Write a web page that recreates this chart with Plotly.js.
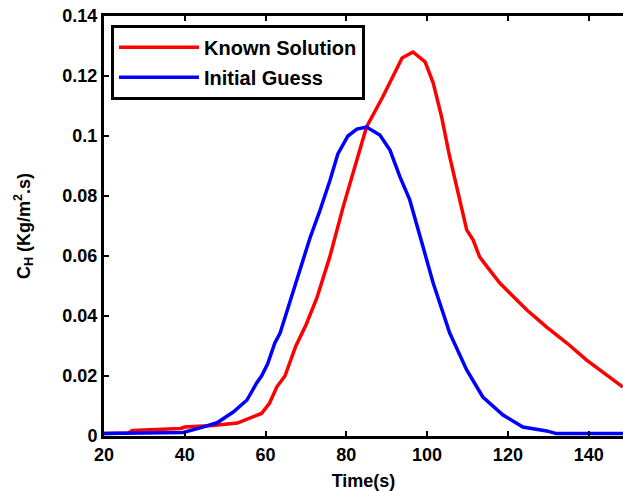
<!DOCTYPE html>
<html>
<head>
<meta charset="utf-8">
<script src="https://cdn.plot.ly/plotly-3.0.1.min.js"></script>
<style>html,body{margin:0;padding:0;background:#fff;}#chart{width:623px;height:491px;}</style>
</head>
<body>
<div id="chart"></div>
<script>
const knownT = [20, 26, 27, 33, 39, 40, 47, 53, 55, 59, 61, 62.8, 64.8, 67.5, 70, 72.7, 75.9, 79.2, 82.6, 85, 89, 90.8, 93.8, 96.5, 99.5, 101.5, 103.6, 105.6, 107.6, 109.8, 111.4, 113, 115.5, 118, 122.2, 124.7, 129.6, 134.6, 139.5, 146, 148.5];
const knownC = [0.0008, 0.0010, 0.0018, 0.0022, 0.0025, 0.0030, 0.0035, 0.0043, 0.0053, 0.0075, 0.011, 0.0164, 0.020, 0.030, 0.037, 0.046, 0.0597, 0.0763, 0.092, 0.103, 0.113, 0.1177, 0.126, 0.128, 0.1247, 0.1177, 0.1063, 0.093, 0.081, 0.0687, 0.0653, 0.0597, 0.0553, 0.051, 0.0453, 0.042, 0.0363, 0.031, 0.0253, 0.0187, 0.0163];
const guessT = [20, 39.6, 43.8, 48, 52, 55.4, 57.8, 59, 60.5, 62.3, 63.6, 66.8, 69, 71, 73.5, 75.9, 77.9, 80.4, 82.6, 85, 88.3, 90.8, 93.3, 95.7, 99, 101.5, 105.6, 109.8, 113.8, 118.8, 123.7, 129.6, 132, 148.5];
const guessC = [0.0008, 0.0012, 0.0027, 0.0044, 0.008, 0.012, 0.0177, 0.020, 0.024, 0.031, 0.0343, 0.048, 0.057, 0.066, 0.0753, 0.085, 0.094, 0.100, 0.1023, 0.103, 0.1003, 0.0953, 0.0863, 0.0787, 0.063, 0.051, 0.0343, 0.022, 0.013, 0.007, 0.003, 0.0017, 0.0008, 0.0008];
const xTicks = [20, 40, 60, 80, 100, 120, 140];
const yTicks = [0, 0.02, 0.04, 0.06, 0.08, 0.1, 0.12, 0.14];
const yTickText = ['0', '0.02', '0.04', '0.06', '0.08', '0.1', '0.12', '0.14'];

const fam = 'Arial, "Liberation Sans", sans-serif';
const tickFont = {family: fam, size: 18, color: '#000', weight: 'bold'};
const titleFont = {family: fam, size: 18, color: '#000', weight: 'bold'};
const legFont = {family: fam, size: 20, color: '#000', weight: 'bold'};

const traces = [
  {x: knownT, y: knownC, mode: 'lines', name: 'Known Solution', legendgroup: 'a',
   line: {color: '#ff0000', width: 3.5}},
  {x: guessT, y: guessC, mode: 'lines', name: 'Initial Guess', legendgroup: 'b',
   line: {color: '#0000ff', width: 3.5}}
];

const layout = {
  width: 623, height: 491,
  margin: {l: 104, r: 0, t: 16, b: 55},
  paper_bgcolor: '#fff', plot_bgcolor: '#fff',
  font: tickFont,
  showlegend: true,
  legend: {x: 0.0135, y: 0.979, xanchor: 'left', yanchor: 'top',
           bgcolor: '#fff', bordercolor: '#000', borderwidth: 3,
           font: legFont, itemwidth: 80, tracegroupgap: 1},
  xaxis: {range: [20, 148.5], tickvals: xTicks, ticks: 'inside', ticklen: 5, tickwidth: 2,
          tickcolor: '#000', showline: true, linecolor: '#000', linewidth: 3, mirror: 'ticks',
          showgrid: false, zeroline: false, tickfont: tickFont,
          title: {text: 'Time(s)', font: titleFont, standoff: 13}},
  yaxis: {range: [0, 0.14], tickvals: yTicks, ticktext: yTickText, ticks: 'inside', ticklen: 5, tickwidth: 2,
          tickcolor: '#000', showline: true, linecolor: '#000', linewidth: 3, mirror: false,
          showgrid: false, zeroline: false, tickfont: tickFont,
          title: {text: 'C<sub>H</sub> (Kg/m<sup>2</sup>.s)', font: titleFont, standoff: 28}}
};

Plotly.newPlot('chart', traces, layout, {displayModeBar: false, staticPlot: true});
</script>
</body>
</html>
